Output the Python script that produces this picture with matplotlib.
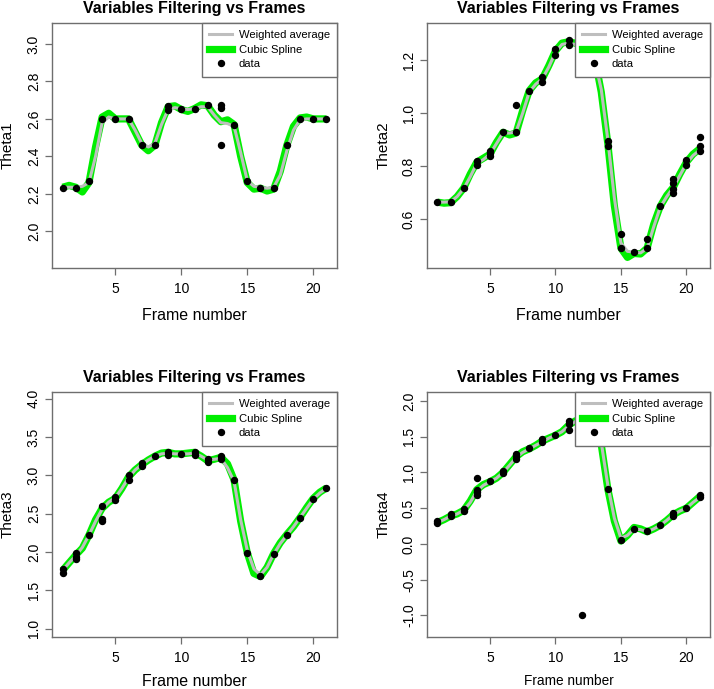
import numpy as np
import matplotlib
matplotlib.use("Agg")
from matplotlib import pyplot as plt
from matplotlib.lines import Line2D

plt.rcParams['font.family'] = ['Liberation Sans', 'DejaVu Sans']
plt.rcParams['axes.unicode_minus'] = False

# curves every half frame, from frame 1 to 21
frames = np.arange(1, 21.5, 0.5)

# Theta1
t1_x = [1, 2, 3, 4, 5, 6, 7, 8, 9, 9, 10, 11, 12, 13, 13, 13, 14, 15, 16, 17, 18, 19, 20, 21]
t1_y = [2.23, 2.23, 2.27, 2.60, 2.60, 2.60, 2.46, 2.46, 2.67, 2.65, 2.655, 2.655, 2.675,
        2.673, 2.66, 2.46, 2.57, 2.27, 2.233, 2.233, 2.46, 2.60, 2.60, 2.60]
t1_spline = [2.235, 2.245, 2.235, 2.21, 2.26, 2.45, 2.61, 2.63, 2.60, 2.60, 2.60, 2.53, 2.46,
             2.43, 2.46, 2.58, 2.665, 2.67, 2.65, 2.64, 2.655, 2.675, 2.67, 2.62, 2.585, 2.595,
             2.57, 2.40, 2.26, 2.225, 2.23, 2.215, 2.225, 2.32, 2.46, 2.56, 2.605, 2.61, 2.60,
             2.60, 2.60]
t1_wavg = [2.235, 2.235, 2.235, 2.24, 2.26, 2.40, 2.58, 2.61, 2.60, 2.60, 2.60, 2.54, 2.47,
           2.45, 2.47, 2.57, 2.65, 2.66, 2.655, 2.65, 2.655, 2.665, 2.665, 2.62, 2.58, 2.575,
           2.56, 2.42, 2.27, 2.24, 2.235, 2.23, 2.235, 2.30, 2.43, 2.54, 2.595, 2.60, 2.60,
           2.60, 2.60]

# Theta2
t2_x = [1, 2, 3, 4, 4, 5, 5, 5, 6, 7, 7, 8, 9, 9, 10, 10, 11, 11, 12, 14, 14, 15, 15, 16,
        17, 17, 18, 19, 19, 19, 19, 20, 20, 21, 21, 21]
t2_y = [0.664, 0.664, 0.717, 0.821, 0.803, 0.858, 0.848, 0.837, 0.928, 1.031, 0.928, 1.083,
        1.137, 1.117, 1.243, 1.221, 1.276, 1.257, 1.268, 0.894, 0.875, 0.543, 0.490, 0.474,
        0.526, 0.490, 0.648, 0.750, 0.735, 0.715, 0.700, 0.824, 0.806, 0.910, 0.875, 0.856]
t2_spline = [0.664, 0.660, 0.662, 0.685, 0.717, 0.770, 0.815, 0.830, 0.845, 0.890, 0.928,
             0.918, 0.925, 1.010, 1.085, 1.115, 1.130, 1.180, 1.235, 1.265, 1.270, 1.265,
             1.260, 1.245, 1.210, 1.080, 0.885, 0.650, 0.490, 0.455, 0.470, 0.468, 0.490,
             0.580, 0.648, 0.690, 0.720, 0.770, 0.815, 0.845, 0.865]
t2_wavg = [0.664, 0.664, 0.665, 0.685, 0.715, 0.760, 0.810, 0.825, 0.845, 0.885, 0.925,
           0.925, 0.930, 1.000, 1.080, 1.110, 1.130, 1.175, 1.230, 1.260, 1.265, 1.260,
           1.255, 1.235, 1.200, 1.090, 0.900, 0.680, 0.510, 0.478, 0.475, 0.472, 0.490,
           0.570, 0.645, 0.685, 0.720, 0.765, 0.810, 0.840, 0.860]

# Theta3
t3_x = [1, 1, 2, 2, 2, 3, 4, 4, 4, 5, 5, 6, 6, 7, 7, 8, 9, 9, 10, 11, 11, 12, 12, 13, 13,
        14, 15, 16, 17, 18, 19, 20, 21]
t3_y = [1.78, 1.726, 1.99, 1.935, 1.91, 2.217, 2.60, 2.435, 2.405, 2.717, 2.683, 3.00, 2.943,
        3.161, 3.122, 3.248, 3.304, 3.26, 3.283, 3.304, 3.27, 3.209, 3.174, 3.248, 3.217,
        2.943, 1.987, 1.683, 1.978, 2.226, 2.448, 2.696, 2.835]
t3_spline = [1.76, 1.86, 1.96, 2.05, 2.22, 2.42, 2.57, 2.65, 2.70, 2.83, 2.98, 3.07, 3.14,
             3.20, 3.25, 3.29, 3.30, 3.28, 3.28, 3.29, 3.30, 3.25, 3.19, 3.21, 3.235, 3.15,
             2.94, 2.40, 1.99, 1.72, 1.68, 1.80, 1.98, 2.12, 2.23, 2.33, 2.45, 2.58, 2.70,
             2.78, 2.835]
t3_wavg = [1.76, 1.86, 1.95, 2.06, 2.22, 2.40, 2.56, 2.65, 2.71, 2.83, 2.97, 3.07, 3.14,
           3.20, 3.25, 3.28, 3.29, 3.28, 3.28, 3.28, 3.29, 3.25, 3.20, 3.21, 3.22, 3.10,
           2.92, 2.42, 2.02, 1.78, 1.70, 1.80, 1.97, 2.11, 2.22, 2.33, 2.45, 2.57, 2.69,
           2.77, 2.83]

# Theta4
t4_x = [1, 1, 2, 2, 3, 3, 4, 4, 4, 4, 5, 6, 6, 7, 7, 7, 8, 9, 9, 10, 11, 11, 11, 12, 12,
        14, 15, 16, 17, 18, 19, 19, 20, 21, 21]
t4_y = [0.32, 0.29, 0.415, 0.385, 0.49, 0.46, 0.927, 0.76, 0.73, 0.69, 0.875, 1.02, 0.99,
        1.26, 1.225, 1.19, 1.34, 1.463, 1.426, 1.52, 1.715, 1.683, 1.59, 1.767, -1.0,
        0.773, 0.06, 0.21, 0.175, 0.26, 0.43, 0.385, 0.50, 0.69, 0.656]
t4_spline = [0.30, 0.34, 0.39, 0.42, 0.47, 0.60, 0.76, 0.83, 0.87, 0.92, 1.00, 1.11, 1.22,
             1.29, 1.33, 1.38, 1.44, 1.48, 1.52, 1.57, 1.66, 1.72, 1.75, 1.78, 1.76, 1.39,
             0.77, 0.32, 0.04, 0.12, 0.23, 0.21, 0.17, 0.21, 0.26, 0.33, 0.41, 0.46, 0.50,
             0.58, 0.66]
t4_wavg = [0.30, 0.34, 0.39, 0.42, 0.47, 0.58, 0.74, 0.82, 0.87, 0.92, 1.00, 1.10, 1.21,
           1.28, 1.33, 1.38, 1.43, 1.48, 1.52, 1.57, 1.65, 1.71, 1.74, 1.76, 1.74, 1.42,
           0.82, 0.36, 0.08, 0.12, 0.21, 0.20, 0.17, 0.21, 0.26, 0.33, 0.41, 0.46, 0.50,
           0.58, 0.65]

panels = [
    ("Theta1", t1_x, t1_y, t1_spline, t1_wavg, (1.804, 3.112), np.arange(2.0, 3.01, 0.2)),
    ("Theta2", t2_x, t2_y, t2_spline, t2_wavg, (0.415, 1.341), np.arange(0.6, 1.21, 0.2)),
    ("Theta3", t3_x, t3_y, t3_spline, t3_wavg, (0.891, 4.087), np.arange(1.0, 4.01, 0.5)),
    ("Theta4", t4_x, t4_y, t4_spline, t4_wavg, (-1.303, 2.126), np.arange(-1.0, 2.01, 0.5)),
]

W, H = 714, 689
fig = plt.figure(figsize=(W / 100, H / 100), dpi=100)
boxes = [(52, 23, 337, 268), (427, 23, 710, 268), (52, 392, 337, 637), (427, 392, 710, 637)]
frame_col = '#6e6e6e'

for i, (name, px, py, spl, wav, ylim, yt) in enumerate(panels):
    l, t, r, b = boxes[i]
    ax = fig.add_axes([l / W, 1 - b / H, (r - l) / W, (b - t) / H])
    ax.plot(frames, spl, color='#00ee00', lw=5.2, solid_capstyle='butt', zorder=2)
    ax.plot(frames, wav, color='#bebebe', lw=2.2, zorder=3)
    ax.plot(px, py, 'o', color='black', ms=4.3, zorder=4)
    ax.set_xlim(0.2, 21.8)
    ax.set_ylim(*ylim)
    ax.set_xticks([5, 10, 15, 20])
    ax.set_yticks(yt)
    ax.set_yticklabels(["%.1f" % v for v in yt], rotation=90, va='center')
    ax.tick_params(direction='out', length=5, width=0.9, color=frame_col, labelsize=10)
    ax.tick_params(axis='x', pad=5)
    ax.tick_params(axis='y', pad=3)
    for s in ax.spines.values():
        s.set_color(frame_col)
        s.set_linewidth(1.0)
    ax.set_title("Variables Filtering vs Frames", fontsize=11.5, fontweight='bold', pad=7)
    xfs = 9.8 if i == 3 else 11.5
    ax.set_xlabel("Frame number", fontsize=xfs)
    xl_off = 47 if i < 2 else 44
    ax.xaxis.set_label_coords(0.5, -xl_off / 245)
    ax.xaxis.label.set_va('center')
    ax.set_ylabel(name, fontsize=11)
    ax.yaxis.set_label_coords(-44 / 284, 0.5)
    ax.yaxis.label.set_va('center')

    handles = [Line2D([], [], color='#bebebe', lw=2.2),
               Line2D([], [], color='#00ee00', lw=5.2),
               Line2D([], [], color='black', marker='o', ls='none', ms=4.3)]
    leg = ax.legend(handles, ["Weighted average", "Cubic Spline", "data"],
                    loc='upper right', borderaxespad=0, fontsize=8.1, fancybox=False,
                    framealpha=1, edgecolor=frame_col, handlelength=2.0,
                    handletextpad=0.6, labelspacing=0.4, borderpad=0.65)
    leg.get_frame().set_linewidth(1.0)
    leg.set_zorder(10)

fig.savefig("out.png", dpi=100)
